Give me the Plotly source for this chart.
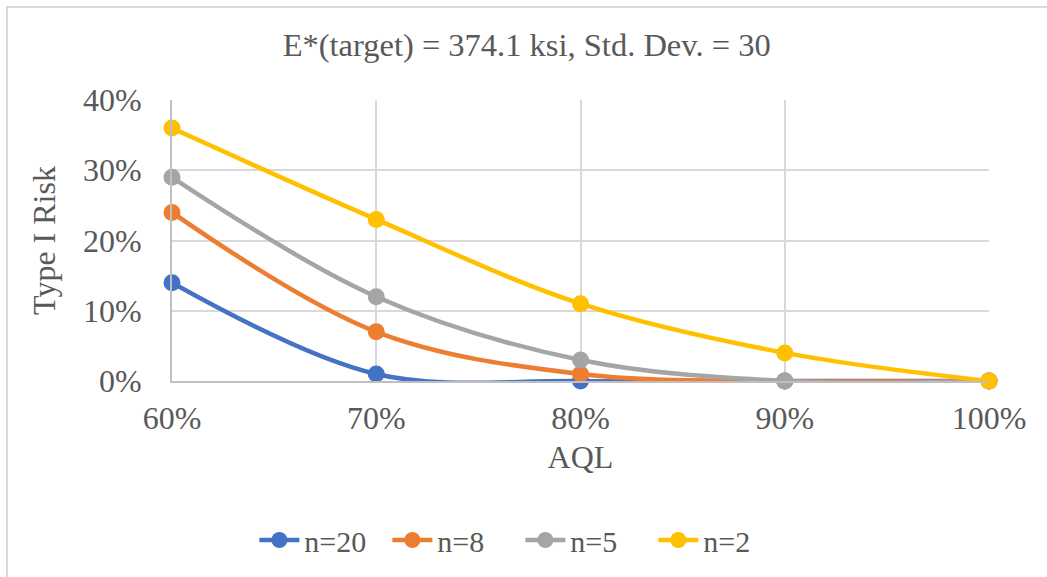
import plotly.graph_objects as go

aql = [60, 70, 80, 90, 100]
aql_labels = ["60%", "70%", "80%", "90%", "100%"]
n20 = [0.14, 0.01, 0.0, 0.0, 0.0]
n8 = [0.24, 0.07, 0.01, 0.0, 0.0]
n5 = [0.29, 0.12, 0.03, 0.0, 0.0]
n2 = [0.36, 0.23, 0.11, 0.04, 0.0]

series = [("n=20", n20, "#4472C4"), ("n=8", n8, "#ED7D31"),
          ("n=5", n5, "#A5A5A5"), ("n=2", n2, "#FFC000")]

FONT = "Liberation Serif, Times New Roman, serif"
GREY = "#595959"

fig = go.Figure()
for name, vals, col in series:
    fig.add_trace(go.Scatter(
        x=aql, y=vals, name=name, mode="lines+markers",
        line=dict(color=col, width=4.5, shape="spline", smoothing=1),
        marker=dict(color=col, size=17),
        cliponaxis=False,
    ))

fig.update_layout(
    width=1047, height=577,
    margin=dict(l=172, r=58, t=100, b=196),
    paper_bgcolor="white", plot_bgcolor="white",
    font=dict(family=FONT, color=GREY, size=32),
    title=dict(text="E*(target) = 374.1 ksi, Std. Dev. = 30",
               x=0.503, xref="container", xanchor="center",
               y=1 - 45 / 577, yref="container", yanchor="middle",
               font=dict(family=FONT, size=32.5, color=GREY)),
    showlegend=True,
    legend=dict(orientation="h", x=0.497, xref="container", xanchor="center",
                y=1 - 540 / 577, yref="container", yanchor="middle",
                font=dict(family=FONT, size=30, color=GREY),
                itemwidth=40, tracegroupgap=0,
                entrywidth=78, entrywidthmode="pixels"),
    xaxis=dict(range=[60, 100], tickvals=aql, ticktext=aql_labels,
               showgrid=True, gridcolor="#D9D9D9", gridwidth=2,
               showline=True, linecolor="#BFBFBF", linewidth=2,
               zeroline=False, ticks="", ticklabelstandoff=8,
               tickfont=dict(family=FONT, size=32, color=GREY),
               title=dict(text="AQL", standoff=10,
                          font=dict(family=FONT, size=32, color=GREY))),
    yaxis=dict(range=[0, 0.4], dtick=0.1, tickformat=".0%",
               showgrid=True, gridcolor="#D9D9D9", gridwidth=2,
               showline=True, linecolor="#BFBFBF", linewidth=2,
               zeroline=False, ticks="", ticklabelstandoff=22,
               tickfont=dict(family=FONT, size=32, color=GREY),
               title=dict(text="Type I Risk", standoff=18,
                          font=dict(family=FONT, size=32, color=GREY))),
    shapes=[dict(type="rect", xref="paper", yref="paper",
                 x0=(7 - 172) / 817, x1=(1052 - 172) / 817,
                 y0=(381 - 582) / 281, y1=(381 - 7) / 281,
                 line=dict(color="#D9D9D9", width=2), layer="below")],
)

fig.write_html("out.html")
